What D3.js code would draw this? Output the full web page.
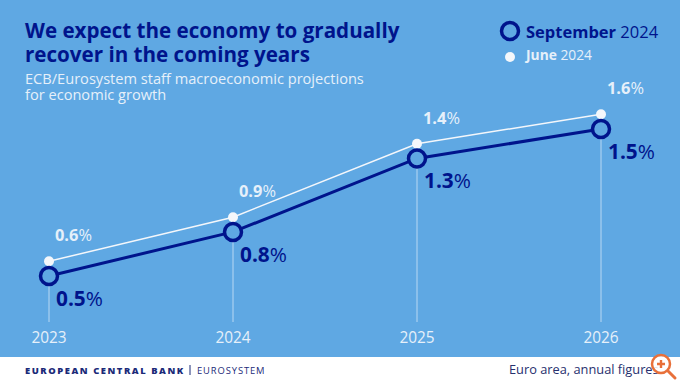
<!DOCTYPE html>
<html>
<head>
<meta charset="utf-8">
<script src="https://cdn.jsdelivr.net/npm/d3@7"></script>
<style>
html, body { margin: 0; padding: 0; background: #fff; }
svg { display: block; }
text { font-family: "Open Sans", sans-serif; }
</style>
</head>
<body>
<script>
"use strict";
const years = [2023, 2024, 2025, 2026];
const september = [0.5, 0.8, 1.3, 1.5];
const june = [0.6, 0.9, 1.4, 1.6];
const titleLines = ["We expect the economy to gradually", "recover in the coming years"];
const subtitleLines = ["ECB/Eurosystem staff macroeconomic projections", "for economic growth"];

const w = 680;
const h = 382;
const navy = "#00148c";
const blue = "#5fa8e3";
const pale = "#e6f0fa";

const x = d3.scalePoint().domain(years).range([49, 601]);
const y = d3.scaleLinear().domain([0.5, 1.5]).range([276, 129]);
const baseline = 322;

const svg = d3.select("body").append("svg").attr("width", w).attr("height", h);
svg.append("rect").attr("width", w).attr("height", h).attr("fill", "#fff");
svg.append("rect").attr("width", w).attr("height", 357).attr("fill", blue);

// headings
svg.selectAll("text.title").data(titleLines).enter().append("text").attr("class", "title")
	.attr("x", 25).attr("y", (d, i) => 38 + i * 24)
	.attr("font-size", 20.6).attr("font-weight", 700).attr("fill", navy).text(d => d);
svg.selectAll("text.subtitle").data(subtitleLines).enter().append("text").attr("class", "subtitle")
	.attr("x", 25).attr("y", (d, i) => 84 + i * 16)
	.attr("font-size", 14.6).attr("fill", pale).text(d => d);

// legend
svg.append("circle").attr("cx", 510).attr("cy", 31).attr("r", 8.5)
	.attr("fill", "none").attr("stroke", navy).attr("stroke-width", 3.5);
const legend1 = svg.append("text").attr("x", 526).attr("y", 38).attr("font-size", 16.5).attr("fill", navy);
legend1.append("tspan").attr("font-weight", 700).text("September");
legend1.append("tspan").text(" 2024");
svg.append("circle").attr("cx", 510).attr("cy", 57).attr("r", 5).attr("fill", "#f4f7fb");
const legend2 = svg.append("text").attr("x", 526).attr("y", 60).attr("font-size", 13.8).attr("fill", pale);
legend2.append("tspan").attr("font-weight", 700).text("June");
legend2.append("tspan").text(" 2024");

// drop lines
svg.selectAll("line.drop").data(years).enter().append("line").attr("class", "drop")
	.attr("x1", d => x(d)).attr("x2", d => x(d))
	.attr("y1", (d, i) => y(september[i])).attr("y2", baseline)
	.attr("stroke", "#cfe4f7").attr("stroke-width", 0.8);

const line = d3.line().x((d, i) => x(years[i])).y(d => y(d));

svg.append("path").datum(june).attr("d", line).attr("fill", "none")
	.attr("stroke", "#f4f7fb").attr("stroke-width", 1.5);
svg.selectAll("circle.june").data(june).enter().append("circle").attr("class", "june")
	.attr("cx", (d, i) => x(years[i])).attr("cy", d => y(d)).attr("r", 5).attr("fill", "#f4f7fb");

svg.append("path").datum(september).attr("d", line).attr("fill", "none")
	.attr("stroke", navy).attr("stroke-width", 3);
svg.selectAll("circle.sept").data(september).enter().append("circle").attr("class", "sept")
	.attr("cx", (d, i) => x(years[i])).attr("cy", d => y(d)).attr("r", 8.5)
	.attr("fill", blue).attr("stroke", navy).attr("stroke-width", 3.5);

// value labels
function valueLabels(values, cls, dx, dy, size, color) {
	const t = svg.selectAll("text." + cls).data(values).enter().append("text").attr("class", cls)
		.attr("x", (d, i) => x(years[i]) + dx).attr("y", d => y(d) + dy)
		.attr("font-size", size).attr("fill", color);
	t.append("tspan").attr("font-weight", 700).text(d => d.toFixed(1));
	t.append("tspan").text("%");
}
valueLabels(june, "junelabel", 6, -20, 16.4, pale);
valueLabels(september, "septlabel", 7, 30, 20.8, navy);

// x labels
svg.selectAll("text.year").data(years).enter().append("text").attr("class", "year")
	.attr("x", d => x(d)).attr("y", 343).attr("text-anchor", "middle")
	.attr("font-size", 15.4).attr("fill", pale).text(d => d);

// footer
const bank = svg.append("text").attr("x", 25).attr("y", 374).attr("font-size", 9.4).attr("fill", "#1b2a78");
bank.append("tspan").attr("font-weight", 800).attr("letter-spacing", 1.55).text("EUROPEAN CENTRAL BANK");
svg.append("line").attr("x1", 190).attr("x2", 190).attr("y1", 365).attr("y2", 375).attr("stroke", "#1b2a78");
svg.append("text").attr("x", 197).attr("y", 374).attr("font-size", 9.4).attr("letter-spacing", 0.9)
	.attr("fill", "#1b2a78").text("EUROSYSTEM");
svg.append("text").attr("x", 509).attr("y", 374).attr("font-size", 12.8).attr("fill", "#27306e")
	.text("Euro area, annual figures");

// zoom badge sitting over the corner
const badge = svg.append("g").attr("transform", "translate(661,364)");
badge.append("line").attr("x1", 6).attr("y1", 6).attr("x2", 14).attr("y2", 14)
	.attr("stroke", "#e8703a").attr("stroke-width", 3).attr("stroke-linecap", "round");
badge.append("circle").attr("r", 9).attr("fill", "#fff").attr("fill-opacity", 0.85)
	.attr("stroke", "#e8703a").attr("stroke-width", 2.5);
badge.append("path").attr("d", "M-4 0H4M0 -4V4").attr("stroke", "#e8703a").attr("stroke-width", 2.4);
</script>
</body>
</html>
